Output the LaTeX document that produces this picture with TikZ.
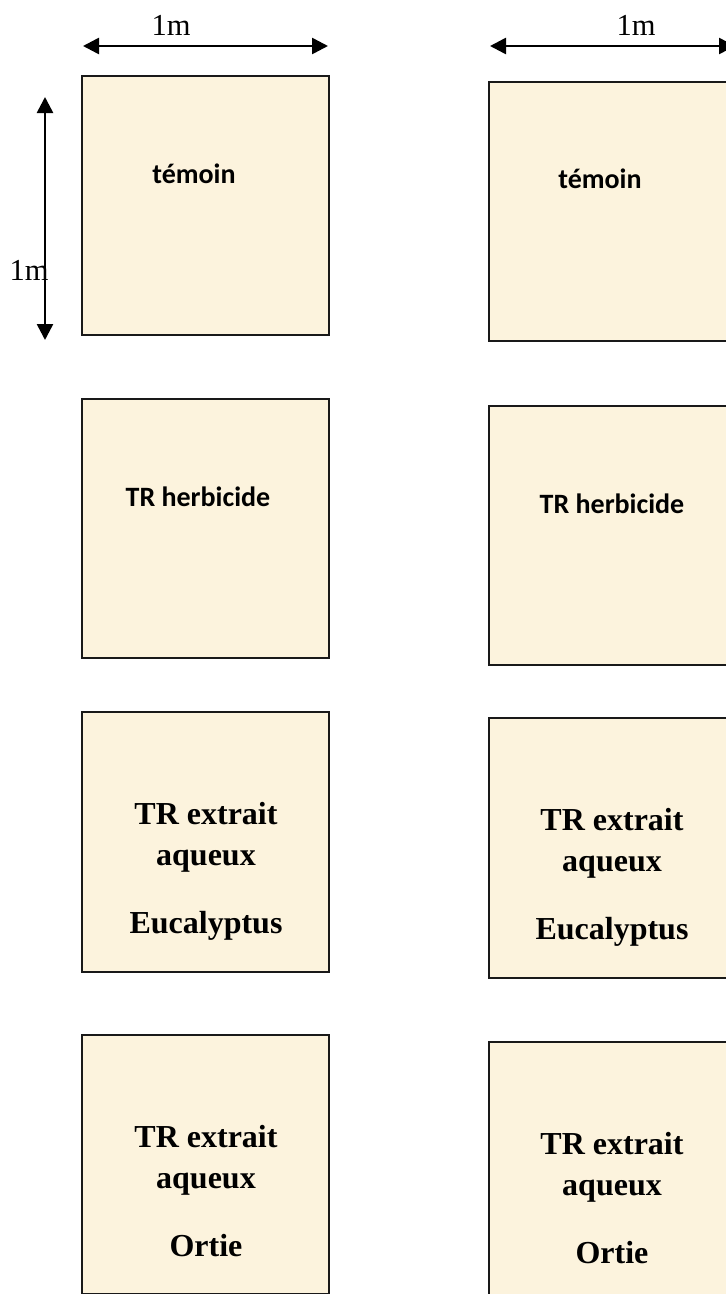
\documentclass[tikz,border=0pt]{standalone}
\usepackage{fontspec}
\setmainfont{Liberation Serif}
\newfontfamily\calibfont{Carlito}
\usetikzlibrary{arrows.meta}
\definecolor{parch}{RGB}{252,243,221}
\begin{document}
\begin{tikzpicture}[x=1pt,y=-1pt,
  plotbox/.style={draw=black!90,line width=2pt,fill=parch,minimum width=247pt,minimum height=259pt,inner sep=0pt,outer sep=0pt,anchor=north west},
  sanslab/.style={font=\calibfont\bfseries\fontsize{28}{34}\selectfont,anchor=base,inner sep=0pt},
  serlab/.style={font=\bfseries\fontsize{32}{38}\selectfont,anchor=base,inner sep=0pt},
  dimarrow/.style={line width=2.6pt,{Triangle[length=16pt,width=16pt]}-{Triangle[length=16pt,width=16pt]}},
  dimlab/.style={font=\fontsize{30.5}{36}\selectfont,anchor=base,inner sep=0pt}]
\useasboundingbox (0,0) rectangle (726,1294);
\clip (0,0) rectangle (726,1294);
\fill[white] (0,0) rectangle (726,1294);

% plots, left column
\node[plotbox] (L1) at (82,76) {};
\node[plotbox] (L2) at (82,399) {};
\node[plotbox,minimum height=260pt] (L3) at (82,712) {};
\node[plotbox] (L4) at (82,1035) {};
% plots, right column
\node[plotbox] (R1) at (489,82) {};
\node[plotbox] (R2) at (489,406) {};
\node[plotbox,minimum height=260pt] (R3) at (489,718) {};
\node[plotbox] (R4) at (489,1042) {};

% labels
\node[sanslab] (tL1) at (194,183) {témoin};
\node[sanslab] (tR1) at (600,188) {témoin};
\node[sanslab] (tL2) at (198,506) {TR herbicide};
\node[sanslab] (tR2) at (612,513) {TR herbicide};

\node[serlab] (tL3a) at (206,824) {TR extrait};
\node[serlab] (tL3b) at (206,865) {aqueux};
\node[serlab] (tL3c) at (206,933) {Eucalyptus};
\node[serlab] (tR3a) at (612,830) {TR extrait};
\node[serlab] (tR3b) at (612,871) {aqueux};
\node[serlab] (tR3c) at (612,939) {Eucalyptus};

\node[serlab] (tL4a) at (206,1147) {TR extrait};
\node[serlab] (tL4b) at (206,1188) {aqueux};
\node[serlab] (tL4c) at (206,1256) {Ortie};
\node[serlab] (tR4a) at (612,1154) {TR extrait};
\node[serlab] (tR4b) at (612,1195) {aqueux};
\node[serlab] (tR4c) at (612,1263) {Ortie};

% dimension arrows
\coordinate (hL1) at (83,46);
\coordinate (hL2) at (328,46);
\coordinate (hR1) at (490,46);
\coordinate (hR2) at (735,46);
\coordinate (v1) at (45,97);
\coordinate (v2) at (45,340);
\draw[dimarrow] (hL1) -- (hL2);
\draw[dimarrow] (hR1) -- (hR2);
\draw[dimarrow] (v1) -- (v2);
\node[dimlab] (dL) at (171,35) {1m};
\node[dimlab] (dR) at (636,35) {1m};
\node[dimlab] (dV) at (29,280) {1m};
\end{tikzpicture}
\end{document}
